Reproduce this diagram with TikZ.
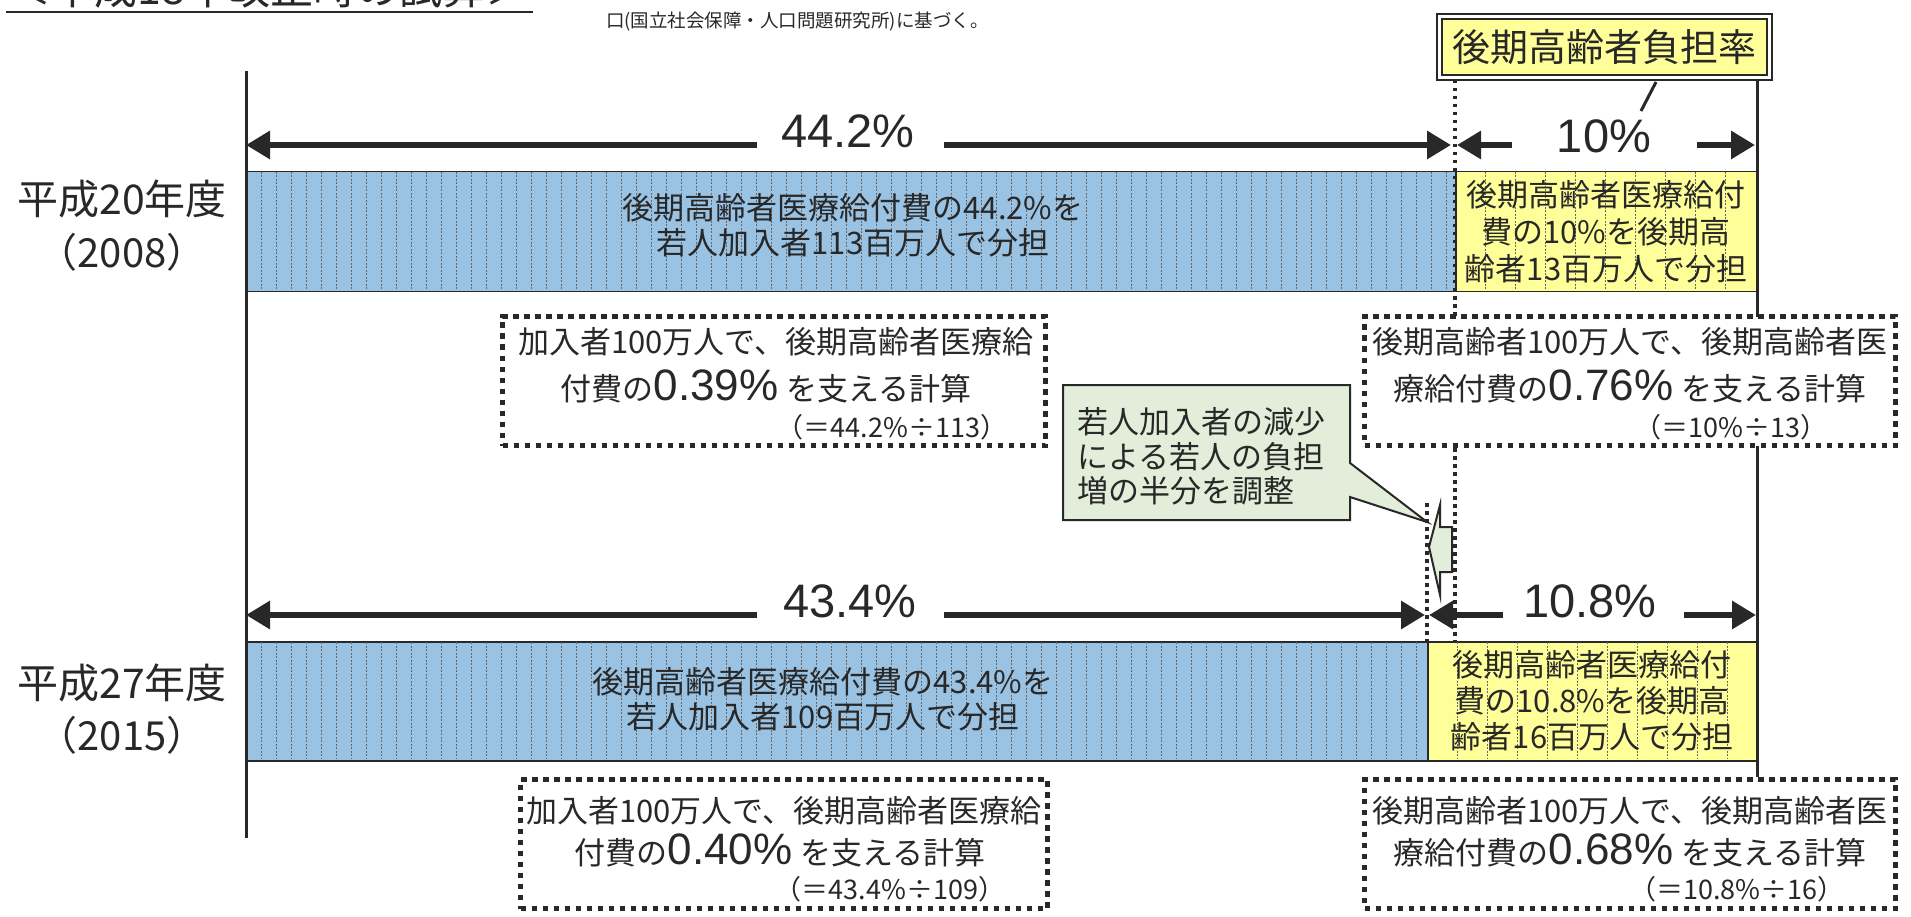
\documentclass[tikz,border=0pt]{standalone}
\usepackage{fontspec}
\setmainfont{Liberation Sans}
\newfontfamily\jp{Noto Sans CJK JP}
\usetikzlibrary{arrows.meta}
\newcommand\setfs[1]{\fontsize{#1}{#1}\selectfont}
\definecolor{barblue}{RGB}{154,194,227}
\definecolor{baryellow}{RGB}{255,255,153}
\definecolor{callgreen}{RGB}{226,238,218}
\definecolor{ink}{RGB}{40,40,40}
\begin{document}
\begin{tikzpicture}[x=1pt,y=-1pt,
  jtxt/.style={font=\jp\setfs{#1}, inner sep=0pt, text=ink, anchor=base},
  pct/.style={font=\setfs{47}, inner sep=0pt, text=ink, anchor=base},
  dimarr/.style={draw=ink, line width=6pt, -{Triangle[length=24pt,width=27pt]}},
  notebox/.style={draw=ink, line width=5.5pt, dash pattern=on 5.5pt off 5.5pt, fill=white, inner sep=0pt},
  vdots/.style={draw=ink, line width=3.5pt, dash pattern=on 3.5pt off 4.5pt},
  stripe/.style={draw=black!60, line width=0.7pt, dash pattern=on 2pt off 1.5pt},
  barb/.style={fill=barblue, draw=ink, line width=1.5pt, inner sep=0pt, anchor=north west},
  bary/.style={fill=baryellow, draw=ink, line width=1.5pt, inner sep=0pt, anchor=north west},
  solidline/.style={draw=ink, line width=3pt},
]
\fill[white] (0,0) rectangle (1911,917);
\useasboundingbox (0,0) rectangle (1911,917);

% cut-off title and source line
\node[jtxt=43, anchor=base west] (title) at (8,5) {＜平成18年改正時の試算＞};
\coordinate (ulA) at (6,12);
\coordinate (ulB) at (533,12);
\draw[draw=ink, line width=2pt] (ulA) -- (ulB);
\node[jtxt=18.5, anchor=base west] (src) at (606,28) {口(国立社会保障・人口問題研究所)に基づく。};

% bars
\node[barb, minimum width=1209pt, minimum height=120pt] (b08) at (246,171) {};
\node[bary, minimum width=302pt, minimum height=120pt] (y08) at (1455,171) {};
\node[barb, minimum width=1181pt, minimum height=119pt] (b15) at (246,641) {};
\node[bary, minimum width=330pt, minimum height=119pt] (y15) at (1427,641) {};
\foreach \x in {261,276,...,1446} \draw[stripe] (\x,172) -- (\x,290);
\foreach \x in {1485,1515,...,1725} \draw[stripe] (\x,172) -- (\x,290);
\foreach \x in {261,276,...,1416} \draw[stripe] (\x,642) -- (\x,759);
\foreach \x in {1457,1487,...,1727} \draw[stripe] (\x,642) -- (\x,759);

% bar texts
\node[jtxt=31] (b08a) at (853,220) {後期高齢者医療給付費の44.2\%を};
\node[jtxt=31] (b08b) at (853,255) {若人加入者113百万人で分担};
\node[jtxt=31] (y08a) at (1606,207) {後期高齢者医療給付};
\node[jtxt=31] (y08b) at (1606,244) {費の10\%を後期高};
\node[jtxt=31] (y08c) at (1606,280) {齢者13百万人で分担};
\node[jtxt=31] (b15a) at (823,693) {後期高齢者医療給付費の43.4\%を};
\node[jtxt=31] (b15b) at (823,728) {若人加入者109百万人で分担};
\node[jtxt=31] (y15a) at (1592,676) {後期高齢者医療給付};
\node[jtxt=31] (y15b) at (1592,712) {費の10.8\%を後期高};
\node[jtxt=31] (y15c) at (1592,748) {齢者16百万人で分担};

% year labels
\node[jtxt=41] (yr1) at (122,215) {平成20年度};
\node[jtxt=40] (yr1b) at (122,268) {（2008）};
\node[jtxt=41] (yr2) at (122,698) {平成27年度};
\node[jtxt=40] (yr2b) at (122,750) {（2015）};

% vertical lines
\coordinate (axT) at (246,71);
\coordinate (axB) at (246,838);
\draw[solidline] (axT) -- (axB);
\coordinate (rT) at (1757,80);
\coordinate (rB) at (1757,777);
\draw[solidline] (rT) -- (rB);
\coordinate (d1T) at (1455,80);
\coordinate (d1B) at (1455,641);
\draw[vdots] (d1T) -- (d1B);
\coordinate (d2T) at (1427,503);
\coordinate (d2B) at (1427,641);
\draw[vdots] (d2T) -- (d2B);

% label box
\node[fill=baryellow, draw=ink, line width=2.2pt, double=white, double distance=2.5pt,
      minimum width=330pt, minimum height=61pt, inner sep=0pt,
      font=\jp\setfs{38}, text=ink] (lbl) at (1604.5,47) {後期高齢者負担率};
\coordinate (slA) at (1656,82);
\coordinate (slB) at (1641,111);
\draw[draw=ink, line width=3pt] (slA) -- (slB);

% percentages and dimension arrows, row 1
\node[pct] (p1) at (848,148) {44.2\%};
\node[pct] (p2) at (1604,153) {10\%};
\coordinate (a1s) at (757,145);  \coordinate (a1t) at (246,145);
\coordinate (a2s) at (944,145);  \coordinate (a2t) at (1451,145);
\coordinate (a3s) at (1512,145); \coordinate (a3t) at (1457,145);
\coordinate (a4s) at (1697,145); \coordinate (a4t) at (1755,145);
\draw[dimarr] (a1s) -- (a1t);
\draw[dimarr] (a2s) -- (a2t);
\draw[dimarr] (a3s) -- (a3t);
\draw[dimarr] (a4s) -- (a4t);

% row 2
\node[pct] (p3) at (850,617) {43.4\%};
\node[pct] (p4) at (1590,617) {10.8\%};
\coordinate (c1s) at (757,615);  \coordinate (c1t) at (246,615);
\coordinate (c2s) at (944,615);  \coordinate (c2t) at (1425,615);
\coordinate (c3s) at (1503,615); \coordinate (c3t) at (1429,615);
\coordinate (c4s) at (1684,615); \coordinate (c4t) at (1756,615);
\draw[dimarr] (c1s) -- (c1t);
\draw[dimarr] (c2s) -- (c2t);
\draw[dimarr] (c3s) -- (c3t);
\draw[dimarr] (c4s) -- (c4t);

% note boxes
\node[notebox, minimum width=543pt, minimum height=129pt] (n1) at (774,381) {};
\node[notebox, minimum width=531pt, minimum height=129pt] (n2) at (1630,381) {};
\node[notebox, minimum width=527pt, minimum height=129pt] (n3) at (784,844) {};
\node[notebox, minimum width=531pt, minimum height=129pt] (n4) at (1630,844) {};

\node[jtxt=31] (n1a) at (776,353) {加入者100万人で、後期高齢者医療給};
\node[jtxt=31] (n1b) at (766,400) {付費の{\rmfamily\setfs{44}0.39\%}\hspace{8pt}を支える計算};
\node[jtxt=27] (n1c) at (892,437) {（＝44.2\%÷113）};

\node[jtxt=31] (n2a) at (1630,353) {後期高齢者100万人で、後期高齢者医};
\node[jtxt=31] (n2b) at (1630,400) {療給付費の{\rmfamily\setfs{44}0.76\%}\hspace{8pt}を支える計算};
\node[jtxt=27] (n2c) at (1731,437) {（＝10\%÷13）};

\node[jtxt=31] (n3a) at (784,822) {加入者100万人で、後期高齢者医療給};
\node[jtxt=31] (n3b) at (780,864) {付費の{\rmfamily\setfs{44}0.40\%}\hspace{8pt}を支える計算};
\node[jtxt=27] (n3c) at (890,899) {（＝43.4\%÷109）};

\node[jtxt=31] (n4a) at (1630,822) {後期高齢者100万人で、後期高齢者医};
\node[jtxt=31] (n4b) at (1630,864) {療給付費の{\rmfamily\setfs{44}0.68\%}\hspace{8pt}を支える計算};
\node[jtxt=27] (n4c) at (1737,899) {（＝10.8\%÷16）};

% callout
\coordinate (coTip) at (1427,522);
\filldraw[fill=callgreen, draw=ink, line width=2pt]
  (1063,385) -- (1350,385) -- (1350,463) -- (coTip) -- (1350,497) -- (1350,520) -- (1063,520) -- cycle;
\node[jtxt=31, anchor=base west] (co1) at (1077,433) {若人加入者の減少};
\node[jtxt=31, anchor=base west] (co2) at (1077,468) {による若人の負担};
\node[jtxt=31, anchor=base west] (co3) at (1077,502) {増の半分を調整};

% block arrow
\filldraw[fill=callgreen, draw=ink, line width=2pt]
  (1429,547) -- (1440,505) -- (1440,527) -- (1452,527) -- (1452,572) -- (1440,572) -- (1440,595) -- cycle;
\end{tikzpicture}
\end{document}
